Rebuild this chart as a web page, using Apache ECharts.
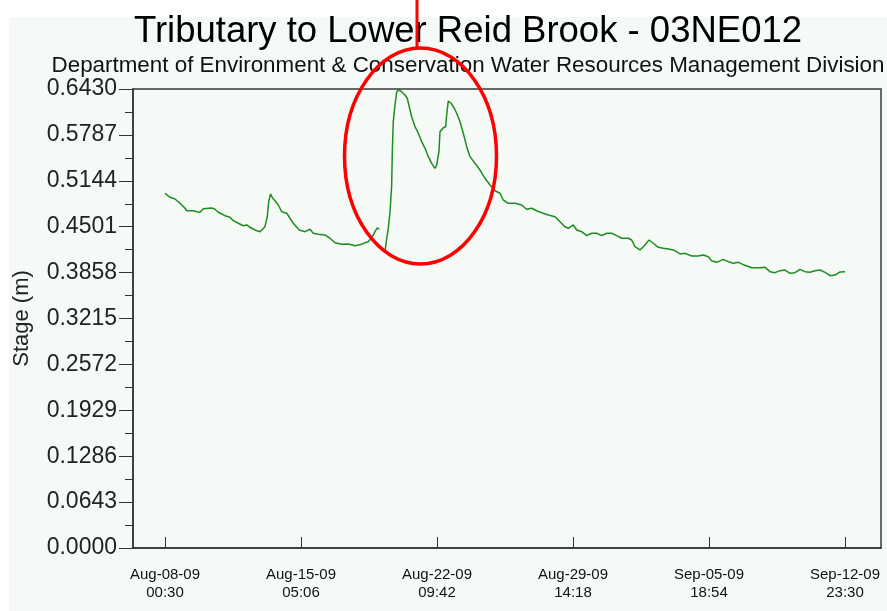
<!DOCTYPE html>
<html><head><meta charset="utf-8">
<script src="https://cdn.jsdelivr.net/npm/echarts@6/dist/echarts.min.js"></script>
<style>html,body{margin:0;padding:0;background:#fff}#c{width:887px;height:611px}</style>
</head><body><div id="c"></div>
<script>
const titleText = 'Tributary to Lower Reid Brook - 03NE012';
const subtitleText = 'Department of Environment & Conservation Water Resources Management Division';
const yAxisName = 'Stage (m)';
// x axis: hours since Aug-08-09 00:30
const xTickHours = [0, 172.6, 345.2, 517.8, 690.4, 863];
const xTickDates = ['Aug-08-09', 'Aug-15-09', 'Aug-22-09', 'Aug-29-09', 'Sep-05-09', 'Sep-12-09'];
const xTickTimes = ['00:30', '05:06', '09:42', '14:18', '18:54', '23:30'];
const yTickStep = 0.0643;
const yMax = 0.643;

const hoursSinceStart = [
  0, 6.3, 12.7, 19.0, 25.4, 27.5, 35.9, 40.2, 44.4, 48.6, 59.3, 63.5, 67.6, 72.0, 76.1, 82.5, 86.7, 93.0, 99.4, 103.7,
  107.9, 114.2, 120.6, 122.7, 126.9, 129.8, 131.6, 134.1, 136.7, 139.6, 143.8, 148.1, 154.5, 158.6, 162.8, 170.4,
  177.7, 184.0, 188.2, 194.6, 203.1, 209.4, 215.7, 224.3, 232.6, 241.1, 249.6, 253.8, 258.0, 263.1, 266.5, 269.7, 271.9,
  275.5,
  279.2, 281.4, 283.4, 285.6, 287.7, 288.5, 289.7, 291.9, 294.1, 297.0, 300.4, 304.6, 307.5, 310.0, 313.1, 317.3,
  321.5, 325.8, 330.0, 334.2, 338.5, 342.7, 344.8, 347.7, 349.0, 353.2, 356.2, 357.5, 359.5, 363.0, 367.2, 370.2,
  374.4, 378.6, 382.9, 387.1, 393.4, 399.8, 406.1, 412.5, 418.8, 425.2, 429.3, 435.7, 444.2, 452.7, 459.0, 465.4,
  471.7, 478.1, 486.5, 495.0, 501.3, 507.6, 511.8, 518.2, 522.5, 528.8, 535.2, 541.5, 547.9, 554.2, 560.6, 566.9,
  573.3, 579.6, 588.0, 592.3, 596.5, 602.8, 609.2, 614.3, 619.7, 626.1, 632.4, 638.8, 645.1, 647.3, 653.6, 659.9,
  668.4, 676.8, 683.2, 689.5, 693.8, 700.2, 708.6, 714.9, 721.3, 727.6, 734.0, 744.6, 755.2, 761.5, 767.9, 774.2,
  780.6, 786.9, 793.2, 799.6, 805.9, 812.3, 818.6, 825.0, 831.3, 837.7, 844.0, 850.4, 856.7, 863.0
];
const stageValues = [
  0.4969, 0.4913, 0.4889, 0.4829, 0.4759, 0.4725, 0.4725, 0.4711, 0.4703, 0.4753, 0.4763, 0.4745, 0.4703, 0.4679, 0.4655, 0.4633, 0.4585, 0.4549, 0.4515, 0.4525,
  0.4493, 0.4455, 0.4431, 0.4409, 0.4501, 0.4641, 0.4851, 0.4959, 0.4899, 0.4865, 0.4805, 0.4711, 0.4689, 0.4619, 0.4549, 0.4455,
  0.4431, 0.4465, 0.4409, 0.4395, 0.4385, 0.4339, 0.4277, 0.4254, 0.4259, 0.4235, 0.4254, 0.4277, 0.4291, 0.4361, 0.4431, 0.4487, 0.4465,
  null,
  0.4151, 0.4339, 0.4479, 0.4711, 0.5085, 0.5552, 0.5972, 0.6206, 0.6392, 0.6416, 0.6392, 0.6346, 0.6300, 0.6182, 0.6042, 0.5902,
  0.5810, 0.5692, 0.5599, 0.5482, 0.5389, 0.5319, 0.5365, 0.5552, 0.5832, 0.5888, 0.5902, 0.6066, 0.6262, 0.6230, 0.6160, 0.6090,
  0.5972, 0.5810, 0.5622, 0.5482, 0.5389, 0.5295, 0.5179, 0.5085, 0.5005, 0.4969, 0.4875, 0.4829, 0.4829, 0.4805, 0.4745, 0.4759,
  0.4725, 0.4697, 0.4665, 0.4641, 0.4571, 0.4501, 0.4479, 0.4525, 0.4455, 0.4431, 0.4375, 0.4409, 0.4409, 0.4375, 0.4409, 0.4409,
  0.4375, 0.4339, 0.4339, 0.4315, 0.4221, 0.4175, 0.4245, 0.4315, 0.4269, 0.4212, 0.4198, 0.4189, 0.4175, 0.4165, 0.4119, 0.4128,
  0.4091, 0.4091, 0.4105, 0.4081, 0.4025, 0.4002, 0.4044, 0.4011, 0.3988, 0.4002, 0.3969, 0.3927, 0.3927, 0.3932, 0.3871, 0.3857,
  0.3885, 0.3894, 0.3848, 0.3857, 0.3904, 0.3871, 0.3862, 0.3885, 0.3894, 0.3862, 0.3815, 0.3824, 0.3867, 0.3871
];

const seriesData = hoursSinceStart.map((h, i) => [h, stageValues[i]]);
const FONT = 'Liberation Sans';
const chart = echarts.init(document.getElementById('c'), null, {renderer: 'canvas'});
chart.setOption({
  animation: false,
  backgroundColor: '#ffffff',
  grid: {left: 133, right: 6, top: 89, bottom: 63, show: true, borderColor: '#3a3a3a', borderWidth: 1.5, backgroundColor: 'transparent'},
  xAxis: {
    type: 'value', min: -40.6, max: 908.7,
    axisLine: {show: true, onZero: false, lineStyle: {color: '#333', width: 1.5}},
    axisTick: {show: true, inside: true, length: 11, customValues: xTickHours, lineStyle: {color: '#333', width: 1}},
    axisLabel: {
      customValues: xTickHours, margin: 18, fontFamily: FONT, fontSize: 15, lineHeight: 18, color: '#111',
      formatter: function (v) {
        let best = 0;
        for (let i = 1; i < xTickHours.length; i++) if (Math.abs(xTickHours[i] - v) < Math.abs(xTickHours[best] - v)) best = i;
        return xTickDates[best] + '\n' + xTickTimes[best];
      }
    },
    splitLine: {show: false}
  },
  yAxis: {
    type: 'value', min: 0, max: yMax, interval: yTickStep,
    name: yAxisName, nameLocation: 'middle', nameGap: 100,
    nameTextStyle: {fontFamily: FONT, fontSize: 22, color: '#222'},
    axisLine: {show: true, onZero: false, lineStyle: {color: '#333', width: 1.5}},
    axisTick: {show: true, inside: false, length: 14, lineStyle: {color: '#333', width: 1}},
    minorTick: {show: true, splitNumber: 2, length: 8, lineStyle: {color: '#333', width: 1}},
    axisLabel: {margin: 16, fontFamily: FONT, fontSize: 23, color: '#222', formatter: v => v.toFixed(4)},
    splitLine: {show: false}
  },
  graphic: {elements: [
    {type: 'rect', z: -10, silent: true, shape: {x: 9, y: 17, width: 878, height: 594}, style: {fill: '#f5faf7'}},
    {type: 'text', z: 5, x: 468, y: 32, style: {text: titleText, fontFamily: FONT, fontSize: 36.5, fill: '#000', align: 'center', verticalAlign: 'middle'}},
    {type: 'text', z: 5, x: 468, y: 66, style: {text: subtitleText, fontFamily: FONT, fontSize: 22.4, fill: '#111', align: 'center', verticalAlign: 'middle'}},
    {type: 'line', z: 100, shape: {x1: 417, y1: 0, x2: 417, y2: 48}, style: {stroke: '#ff0000', lineWidth: 3}},
    {type: 'ellipse', z: 100, shape: {cx: 420.5, cy: 156, rx: 76, ry: 108}, style: {stroke: '#ff0000', lineWidth: 3.5, fill: 'none'}}
  ]},
  series: [{
    type: 'line', data: seriesData, showSymbol: false, connectNulls: false,
    lineStyle: {color: '#1e8c1e', width: 1.5}, itemStyle: {color: '#1e8c1e'}
  }]
});
</script></body></html>
